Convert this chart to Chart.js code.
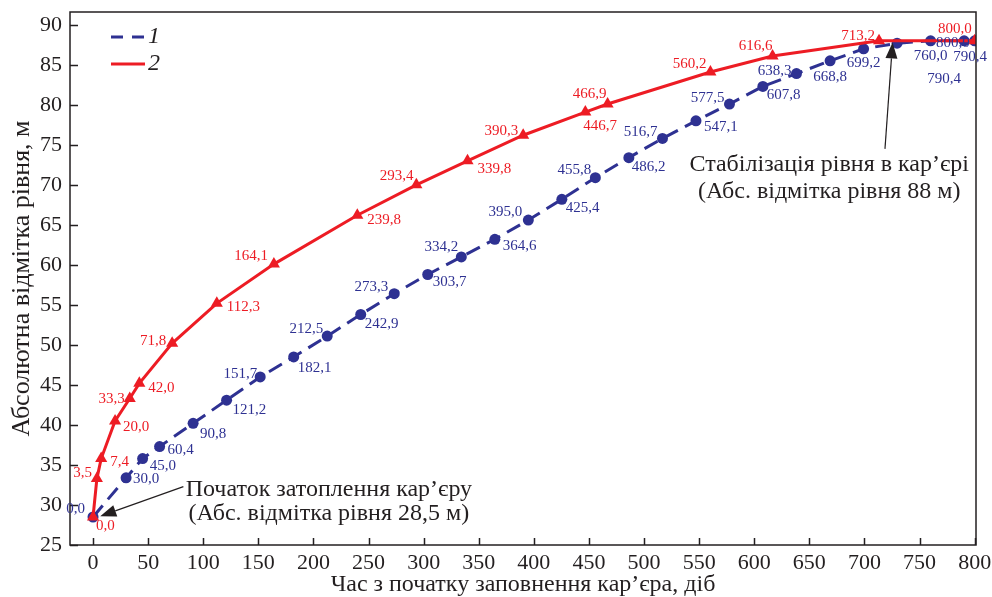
<!DOCTYPE html>
<html>
<head>
<meta charset="utf-8">
<script src="https://cdn.jsdelivr.net/npm/chart.js@4.4.1/dist/chart.umd.min.js"></script>
<style>
  html, body { margin: 0; padding: 0; background: #fff; }
  canvas { display: block; }
</style>
</head>
<body>
<canvas id="levelChart" width="992" height="597"></canvas>
<script>
// time from start of filling, days (series 1 - blue, series 2 - red)
var blueDays = [0, 30.0, 45.0, 60.4, 90.8, 121.2, 151.7, 182.1, 212.5, 242.9, 273.3, 303.7, 334.2, 364.6, 395.0,
    425.4, 455.8, 486.2, 516.7, 547.1, 577.5, 607.8, 638.3, 668.8, 699.2, 729.6, 760.0, 790.4, 800.0];
var blueLevel = [28.5, 33.4, 35.8, 37.3, 40.2, 43.1, 46.0, 48.5, 51.1, 53.8, 56.4, 58.8, 61.0, 63.2, 65.6,
    68.2, 70.9, 73.4, 75.8, 78.0, 80.1, 82.3, 83.9, 85.5, 87.0, 87.7, 88.0, 88.0, 88.0];
var blueLabels = ["0,0", "30,0", "45,0", "60,4", "90,8", "121,2", "151,7", "182,1", "212,5", "242,9", "273,3", "303,7", "334,2", "364,6", "395,0",
    "425,4", "455,8", "486,2", "516,7", "547,1", "577,5", "607,8", "638,3", "668,8", "699,2", "", "760,0", "790,4", "800,0"];

var redDays = [0, 3.5, 7.4, 20.0, 33.3, 42.0, 71.8, 112.3, 164.1, 239.8, 293.4, 339.8, 390.3, 446.7, 466.9, 560.2, 616.6, 713.2, 800.0];
var redLevel = [28.5, 33.3, 35.8, 40.5, 43.3, 45.2, 50.2, 55.2, 60.1, 66.2, 70.0, 73.0, 76.2, 79.1, 80.1, 84.1, 86.1, 88.0, 88.0];
var redLabels = ["0,0", "3,5", "7,4", "20,0", "33,3", "42,0", "71,8", "112,3", "164,1", "239,8", "293,4", "339,8", "390,3",
    "446,7", "466,9", "560,2", "616,6", "713,2", "800,0"];

var xTicks = [0, 50, 100, 150, 200, 250, 300, 350, 400, 450, 500, 550, 600, 650, 700, 750, 800];
var yTicks = [25, 30, 35, 40, 45, 50, 55, 60, 65, 70, 75, 80, 85, 90];

var seriesNames = ["1", "2"];

// label placement: [dx, dy, align] in px from the marker
var blueLabelPos = [[-8, -8, 'right'], [7, 1, 'left'], [7, 7, 'left'], [8, 3, 'left'], [7, 11, 'left'], [6, 10, 'left'],
    [-3, -3, 'right'], [4, 11, 'left'], [-4, -7, 'right'], [4, 10, 'left'], [-6, -7, 'right'], [5, 8, 'left'],
    [-3, -10, 'right'], [8, 7, 'left'], [-6, -8, 'right'], [4, 9, 'left'], [-4, -8, 'right'], [3, 9, 'left'],
    [-5, -6, 'right'], [8, 6, 'left'], [-5, -6, 'right'], [4, 9, 'left'], [-5, -3, 'right'], [0, 16, 'center'],
    [0, 14, 'center'], [0, 0, 'center'], [0, 15, 'center'], [6, 16, 'center'], [-5, 2, 'right']];
var redLabelPos = [[3, 9, 'left'], [-5, -6, 'right'], [9, 3, 'left'], [8, 6, 'left'], [-5, 1, 'right'], [9, 5, 'left'],
    [-6, -2, 'right'], [10, 4, 'left'], [-6, -8, 'right'], [10, 5, 'left'], [-3, -9, 'right'], [10, 8, 'left'],
    [-5, -4, 'right'], [-2, 14, 'left'], [-1, -10, 'right'], [-4, -8, 'right'], [0, -10, 'right'], [-4, -5, 'right'],
    [-3, -12, 'right']];

var BLUE = '#2e3192';
var RED = '#ed1c24';
var INK = '#231f20';
var SERIF = '"Liberation Serif", "DejaVu Serif", serif';

function pointsOf(xs, ys) {
    return xs.map(function(x, i) { return { x: x, y: ys[i] }; });
}

function noPadding(scale) {
    scale.paddingTop = 0;
    scale.paddingBottom = 0;
    scale.paddingLeft = 0;
    scale.paddingRight = 0;
}

var decorPlugin = {
    id: 'decor',
    beforeDraw: function(chart) {
        var ctx = chart.ctx;
        ctx.save();
        ctx.fillStyle = '#fff';
        ctx.fillRect(0, 0, chart.width, chart.height);
        ctx.restore();
    },
    afterDatasetsDraw: function(chart) {
        var ctx = chart.ctx;
        var a = chart.chartArea;
        var xs = chart.scales.x, ys = chart.scales.y;
        ctx.save();

        // frame and inner ticks
        ctx.strokeStyle = INK;
        ctx.lineWidth = 1.5;
        ctx.strokeRect(a.left, a.top, a.right - a.left, a.bottom - a.top);
        ctx.beginPath();
        xTicks.forEach(function(v) {
            var px = Math.round(xs.getPixelForValue(v)) + 0.5;
            ctx.moveTo(px, a.bottom);
            ctx.lineTo(px, a.bottom - 7);
        });
        yTicks.forEach(function(v) {
            var py = Math.round(ys.getPixelForValue(v)) + 0.5;
            ctx.moveTo(a.left, py);
            ctx.lineTo(a.left + 8, py);
        });
        ctx.stroke();

        // point labels
        ctx.font = '15px ' + SERIF;
        ctx.textBaseline = 'middle';
        function drawLabels(idx, labels, pos, color) {
            var meta = chart.getDatasetMeta(idx);
            ctx.fillStyle = color;
            meta.data.forEach(function(pt, i) {
                if (!labels[i]) return;
                var p = pos[i];
                ctx.textAlign = p[2];
                ctx.fillText(labels[i], pt.x + p[0], pt.y + p[1]);
            });
        }
        drawLabels(0, blueLabels, blueLabelPos, BLUE);
        drawLabels(1, redLabels, redLabelPos, RED);
        // stray duplicate label in the original figure
        ctx.fillStyle = BLUE;
        ctx.textAlign = 'center';
        ctx.fillText('790,4', xs.getPixelForValue(790.4) - 20, ys.getPixelForValue(88) + 38);

        // legend
        var lx = a.left + 41, ly1 = a.top + 25, ly2 = a.top + 52;
        ctx.lineWidth = 3;
        ctx.strokeStyle = BLUE;
        ctx.setLineDash([12, 9]);
        ctx.beginPath();
        ctx.moveTo(lx, ly1); ctx.lineTo(lx + 34, ly1);
        ctx.stroke();
        ctx.setLineDash([]);
        ctx.strokeStyle = RED;
        ctx.beginPath();
        ctx.moveTo(lx, ly2); ctx.lineTo(lx + 34, ly2);
        ctx.stroke();
        ctx.fillStyle = INK;
        ctx.font = 'italic 24px ' + SERIF;
        ctx.textAlign = 'left';
        ctx.fillText(seriesNames[0], lx + 37, ly1);
        ctx.fillText(seriesNames[1], lx + 37, ly2);

        // annotations with arrows
        function arrow(x0, y0, x1, y1) {
            var p0x = xs.getPixelForValue(x0), p0y = ys.getPixelForValue(y0);
            var p1x = xs.getPixelForValue(x1), p1y = ys.getPixelForValue(y1);
            var ang = Math.atan2(p1y - p0y, p1x - p0x);
            var len = 16, half = 6;
            var bx = p1x - len * Math.cos(ang), by = p1y - len * Math.sin(ang);
            ctx.strokeStyle = INK;
            ctx.lineWidth = 1.2;
            ctx.beginPath();
            ctx.moveTo(p0x, p0y); ctx.lineTo(bx, by);
            ctx.stroke();
            ctx.fillStyle = INK;
            ctx.beginPath();
            ctx.moveTo(p1x, p1y);
            ctx.lineTo(bx + half * Math.sin(ang), by - half * Math.cos(ang));
            ctx.lineTo(bx - half * Math.sin(ang), by + half * Math.cos(ang));
            ctx.closePath();
            ctx.fill();
        }
        arrow(82, 32.3, 6.5, 28.6);
        arrow(718.6, 74.5, 725.5, 87.8);

        ctx.fillStyle = INK;
        ctx.font = '24px ' + SERIF;
        ctx.textAlign = 'center';
        ctx.fillText('Початок затоплення кар’єру', xs.getPixelForValue(214), ys.getPixelForValue(31.9));
        ctx.fillText('(Абс. відмітка рівня 28,5 м)', xs.getPixelForValue(214), ys.getPixelForValue(28.9));
        ctx.fillText('Стабілізація рівня в кар’єрі', xs.getPixelForValue(668), ys.getPixelForValue(72.5));
        ctx.fillText('(Абс. відмітка рівня 88 м)', xs.getPixelForValue(668), ys.getPixelForValue(69.1));

        ctx.restore();
    }
};

var ctx = document.getElementById('levelChart').getContext('2d');
var levelChart = new Chart(ctx, {
    type: 'scatter',
    data: {
        datasets: [{
            label: seriesNames[0],
            data: pointsOf(blueDays, blueLevel),
            showLine: true,
            borderColor: BLUE,
            backgroundColor: BLUE,
            borderWidth: 3,
            borderDash: [15, 8],
            pointStyle: 'circle',
            pointRadius: 5.5,
            pointBorderWidth: 0,
            order: 2
        }, {
            label: seriesNames[1],
            data: pointsOf(redDays, redLevel),
            showLine: true,
            borderColor: RED,
            backgroundColor: RED,
            borderWidth: 3,
            pointStyle: 'triangle',
            pointRadius: 7,
            pointBorderWidth: 0,
            order: 1
        }]
    },
    options: {
        responsive: false,
        animation: false,
        layout: { padding: { top: 12, right: 16, left: 0, bottom: 0 } },
        plugins: {
            legend: { display: false },
            tooltip: { enabled: false }
        },
        scales: {
            x: {
                type: 'linear',
                min: -20.9,
                max: 801.2,
                afterBuildTicks: function(scale) {
                    scale.ticks = xTicks.map(function(v) { return { value: v }; });
                },
                afterFit: function(scale) { scale.height = 52; noPadding(scale); },
                grid: { display: false, drawTicks: false },
                border: { display: false },
                ticks: {
                    autoSkip: false,
                    maxRotation: 0,
                    padding: 6,
                    color: INK,
                    font: { family: SERIF, size: 22, lineHeight: 1.1 }
                },
                title: {
                    display: true,
                    text: 'Час з початку заповнення кар’єра, діб',
                    color: INK,
                    font: { family: SERIF, size: 24, lineHeight: 1 },
                    padding: { top: 0, bottom: 0 }
                }
            },
            y: {
                min: 25,
                max: 91.6,
                afterBuildTicks: function(scale) {
                    scale.ticks = yTicks.map(function(v) { return { value: v }; });
                },
                afterFit: function(scale) { scale.width = 70; noPadding(scale); },
                grid: { display: false, drawTicks: false },
                border: { display: false },
                ticks: {
                    padding: 8,
                    color: INK,
                    font: { family: SERIF, size: 22 }
                },
                title: {
                    display: true,
                    text: 'Абсолютна відмітка рівня, м',
                    color: INK,
                    font: { family: SERIF, size: 26, lineHeight: 1 },
                    padding: { top: 9, bottom: 0 }
                }
            }
        }
    },
    plugins: [decorPlugin]
});
</script>
</body>
</html>
